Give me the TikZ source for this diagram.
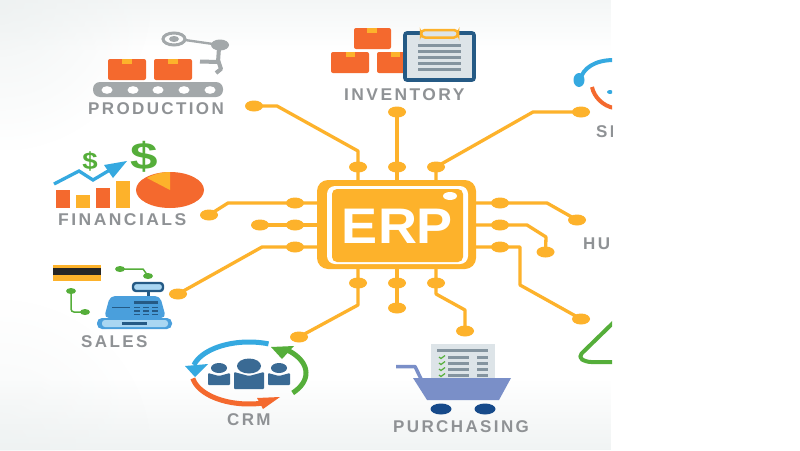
\documentclass[tikz,border=0pt]{standalone}
\usepackage{fontspec}
\setmainfont{Liberation Sans}
\newfontfamily\lblfont[LetterSpace=14]{Liberation Sans}
\usetikzlibrary{shapes.geometric,calc,fadings}
\tikzfading[name=cornerfade,inner color=transparent!0,outer color=transparent!100]
\definecolor{gold}{HTML}{FDB22B}
\definecolor{orng}{HTML}{F4692E}
\definecolor{lblgrey}{HTML}{8F9295}
\definecolor{armgrey}{HTML}{A3A8AA}
\definecolor{navy}{HTML}{255A85}
\definecolor{ppl}{HTML}{3A6A94}
\definecolor{paper}{HTML}{DDE4E8}
\definecolor{rowgrey}{HTML}{84949F}
\definecolor{sky}{HTML}{35A9E0}
\definecolor{grn}{HTML}{55AE3A}
\definecolor{regblue}{HTML}{4A9FDC}
\definecolor{reglight}{HTML}{A9D6F2}
\definecolor{cart}{HTML}{7A8FC8}
\definecolor{wheel}{HTML}{164A8A}
\definecolor{bgedge}{HTML}{EDF1F1}
\tikzset{
 pad/.style={ellipse,fill=gold,draw=none,minimum width=18pt,minimum height=11pt,inner sep=0},
 wire/.style={draw=gold,line width=3.3pt,line join=round},
 lbl/.style={anchor=base west,inner sep=0,text=lblgrey,font=\lblfont\bfseries\fontsize{17}{17}\selectfont},
 box/.style={fill=orng,rounded corners=2pt},
 tape/.style={fill=gold},
 pen/.style={line width=1.5pt},
}
\begin{document}
\begin{tikzpicture}[x=1pt,y=-1pt]
\useasboundingbox (0,0) rectangle (800,450);
\fill[white] (0,0) rectangle (800,450);
% soft background of the picture
\begin{scope}
\clip (0,0) rectangle (612,450);
\fill[bgedge,path fading=south,opacity=.6] (0,0) rectangle (612,50);
\fill[bgedge,path fading=north,opacity=.8] (0,380) rectangle (612,450);
\fill[bgedge,path fading=cornerfade,opacity=.8] (-150,-150) rectangle (150,150);
\fill[bgedge,path fading=cornerfade,opacity=.5] (-150,300) rectangle (150,600);
\end{scope}

% chip
\node[draw=none,fill=gold,rounded corners=11pt,minimum width=159pt,minimum height=89pt,inner sep=0] (chip) at (396.5,224.5) {};
\node[fill=white,rounded corners=8pt,minimum width=141pt,minimum height=78pt,inner sep=0] (ring) at (397.5,225) {};
\node[fill=gold,rounded corners=5pt,minimum width=131pt,minimum height=73pt,inner sep=0] (core) at (397.5,225.5) {};
\node[ellipse,fill=white,minimum width=14pt,minimum height=8pt,inner sep=0] (glint) at (450,196) {};
\node[anchor=base,inner sep=0,text=white,font=\bfseries\fontsize{50}{50}\selectfont,xscale=1.08] (erp) at (397.5,243) {ERP};

% pads
\foreach \n/\x/\y in {t1a/358/167,t2a/397/167,t3a/436/167,t1b/254/106,t2b/397/112,t3b/581/112,
 r1a/500/203,r2a/500/225,r3a/500/247,r1b/577/220,r2b/545.5/252,r3b/581/319,
 b1a/358/283,b2a/397/283,b3a/436/283,b1b/299/337,b2b/397/308,b3b/465/331,
 l1a/295/203,l2a/295/225,l3a/295/247,l1b/209/215,l2b/260/225,l3b/178/294}
 \node[pad] (\n) at (\x,\y) {};

% connectors
\coordinate (ct1) at (358,180); \coordinate (ct2) at (397,180); \coordinate (ct3) at (436,180);
\coordinate (cb1) at (358,269); \coordinate (cb2) at (397,269); \coordinate (cb3) at (436,269);
\coordinate (cl1) at (317,203); \coordinate (cl2) at (317,225); \coordinate (cl3) at (317,247);
\coordinate (cr1) at (476,203); \coordinate (cr2) at (476,225); \coordinate (cr3) at (476,247);
\draw[wire] (ct1) -- (t1a.center) -- (358,151) -- (277,106) -- (t1b.center);
\draw[wire] (ct2) -- (t2a.center) -- (t2b.center);
\draw[wire] (ct3) -- (t3a.center) -- (533,112) -- (t3b.center);
\draw[wire] (cr1) -- (r1a.center) -- (547,203) -- (r1b.center);
\draw[wire] (cr2) -- (r2a.center) -- (527,225) -- (546,237) -- (r2b.center);
\draw[wire] (cr3) -- (r3a.center) -- (520,247) -- (520,285) -- (r3b.center);
\draw[wire] (cb1) -- (b1a.center) -- (358,305) -- (b1b.center);
\draw[wire] (cb2) -- (b2a.center) -- (b2b.center);
\draw[wire] (cb3) -- (b3a.center) -- (436,294) -- (465,310) -- (b3b.center);
\draw[wire] (cl1) -- (l1a.center) -- (228,203) -- (l1b.center);
\draw[wire] (cl2) -- (l2a.center) -- (l2b.center);
\draw[wire] (cl3) -- (l3a.center) -- (262,247) -- (l3b.center);

% PRODUCTION
\fill[box] (108,59) rectangle (146,80);
\fill[box] (154,59) rectangle (192,80);
\fill[tape] (122,59) rectangle (132,64);
\fill[tape] (168,59) rectangle (178,64);
\fill[armgrey,rounded corners=7pt] (93,82) rectangle (223,97);
\foreach \x in {107,133,158,184,210} \fill[white] (\x,90) ellipse[x radius=5.5,y radius=3.8];
\draw[armgrey,line width=3pt] (174,39) ellipse[x radius=11,y radius=6];
\fill[armgrey] (174,39) ellipse[x radius=5,y radius=3];
\draw[armgrey,line width=2.4pt] (185,40) -- (220,45);
\fill[armgrey] (220,45) ellipse[x radius=9,y radius=5.5];
\draw[armgrey,line width=4pt,line join=round] (219,48) -- (218,62) -- (200,61.5);
\draw[armgrey,line width=4pt,line join=round] (218,60) -- (221,69) -- (216,73);
\node[lbl] (production) at (88,114) {PRODUCTION};

% INVENTORY
\fill[box] (354,28) rectangle (391,49);
\fill[box] (331,52) rectangle (369,73);
\fill[box] (377,52) rectangle (410,73);
\fill[tape] (367,28) rectangle (377,33);
\fill[tape] (346,52) rectangle (355,57);
\fill[tape] (391,52) rectangle (400,57);
\draw[navy,fill=paper,line width=3.6pt,rounded corners=2pt] (405,33) rectangle (474,80);
\draw[gold,fill=paper,line width=2.5pt,rounded corners=4pt] (421,30) rectangle (458,37.5);
\foreach \y in {45,51,57,63,69} \fill[rowgrey] (418,\y-1.5) rectangle (461,\y+1.5);
\node[lbl,xscale=1.025,xshift=-1pt] (inventory) at (345,100) {INVENTORY};

% FINANCIALS
\fill[orng] (56,190) rectangle (70,208);
\fill[gold] (76,195) rectangle (90,208);
\fill[orng] (96,188) rectangle (110,208);
\fill[gold] (116,181) rectangle (130,208);
\fill[orng] (170,190) ellipse[x radius=34,y radius=18];
\fill[gold] (170,190) -- (170,172) .. controls (162,172) and (154,174) .. (147,178) -- cycle;
\draw[sky,line width=3.3pt,line join=miter] (54,184) -- (79,171) -- (93,180) -- (114,167.5);
\fill[sky] (127,161) -- (104,165) -- (113,178) -- cycle;
\node[inner sep=0,text=grn,font=\bfseries\fontsize{24}{24}\selectfont,xscale=1.15] (d1) at (90,161) {\$};
\node[inner sep=0,text=grn,font=\bfseries\fontsize{38}{38}\selectfont,xscale=1.3] (d2) at (144,157) {\$};
\node[lbl,xscale=1.03] (financials) at (58,225) {FINANCIALS};

% SALES
\fill[gold] (53,265) rectangle (101,281);
\fill[black!85] (53,268) rectangle (101,275);
\node[ellipse,fill=grn,minimum width=10pt,minimum height=6pt,inner sep=0] (g1) at (120,269) {};
\node[ellipse,fill=grn,minimum width=10pt,minimum height=6pt,inner sep=0] (g2) at (148,276) {};
\node[ellipse,fill=grn,minimum width=10pt,minimum height=6pt,inner sep=0] (g3) at (71,291) {};
\node[ellipse,fill=grn,minimum width=10pt,minimum height=6pt,inner sep=0] (g4) at (85,312) {};
\draw[grn,pen] (g1.center) -- (143,269) -- (g2.center);
\draw[grn,pen,rounded corners=3pt] (g3.center) -- (71,312) -- (g4.center);
\fill[regblue,rounded corners=5pt] (104,318) -- (110,296) -- (160,296) -- (166,318) -- cycle;
\fill[regblue,rounded corners=5pt] (97,318) rectangle (172,329);
\fill[reglight,rounded corners=3pt] (102,320) rectangle (168,327);
\fill[navy] (122,322) rectangle (147,325);
\draw[navy,fill=reglight,line width=2.4pt,rounded corners=3pt] (133,283) rectangle (163,291);
\fill[navy] (146.5,291) rectangle (149.5,296);
\fill[navy] (134,301) rectangle (158,304);
\fill[navy] (112,306.5) rectangle (130,308);
\foreach \y in {306.5,310,313.5} \foreach \x in {134,143,152} \fill[navy] (\x,\y) rectangle (\x+6,\y+1.5);
\node[lbl] (sales) at (81,347) {SALES};

% CRM
\draw[sky,line width=5pt,domain=70:165,samples=30,smooth] plot ({249+57*cos(\x)},{373-31*sin(\x)});
\fill[sky] (185,366) -- (208,364) -- (195,377) -- cycle;
\draw[orng,line width=5pt,domain=190:285,samples=30,smooth] plot ({249+57*cos(\x)},{373-31*sin(\x)});
\fill[orng] (257,398) -- (280,397) -- (263,409) -- cycle;
\draw[grn,line width=5pt,domain=-40:50,samples=30,smooth] plot ({249+57*cos(\x)},{373-31*sin(\x)});
\fill[grn] (271,347) -- (294,346) -- (282,359) -- cycle;
\fill[ppl] (249,366) ellipse[x radius=12,y radius=7.5];
\fill[ppl,rounded corners=1pt] (234,372) -- (249,376) -- (264,372) -- (264,389) -- (234,389) -- cycle;
\fill[ppl] (219,368) ellipse[x radius=8,y radius=5];
\fill[ppl,rounded corners=1pt] (208,373) -- (219,376) -- (230,373) -- (230,385) -- (208,385) -- cycle;
\fill[ppl] (279,368) ellipse[x radius=8,y radius=5];
\fill[ppl,rounded corners=1pt] (268,373) -- (279,376) -- (290,373) -- (290,385) -- (268,385) -- cycle;
\node[lbl] (crm) at (227,425) {CRM};

% PURCHASING
\fill[paper] (431,344) rectangle (495,383);
\fill[rowgrey] (437,349) rectangle (488,352);
\foreach \y in {357,363,369,375} {
  \fill[rowgrey] (448,\y-1.5) rectangle (469,\y+1.5);
  \fill[rowgrey] (477,\y-1.5) rectangle (488,\y+1.5);
  \draw[grn,line width=1.2pt] (439,\y) -- (441,\y+1.5) -- (445,\y-1.5);
}
\fill[cart] (413,378) -- (511,378) -- (499,400) -- (427,400) -- cycle;
\draw[cart,line width=3.5pt,line join=round] (396,366.5) -- (415,366.5) -- (425,387);
\fill[wheel] (441,409) ellipse[x radius=10.5,y radius=5.5];
\fill[wheel] (485,409) ellipse[x radius=10.5,y radius=5.5];
\node[lbl] (purchasing) at (393,432) {PURCHASING};

% cut off at the edge of the image
\begin{scope}
\clip (560,0) rectangle (612,450);
\draw[sky,line width=4pt] (580,80) .. controls (583,68) and (595,60) .. (614,60);
\fill[sky] (579,80) ellipse[x radius=5.5,y radius=7];
\draw[orng,line width=4pt] (592,87) .. controls (594,97) and (603,106) .. (614,108);
\fill[sky] (610,92) ellipse[x radius=3,y radius=2];
\draw[grn,line width=4pt,line join=round,rounded corners=5pt] (616,320) -- (578,357) -- (586,362) -- (616,362);
\node[lbl] (service) at (596,137) {SE};
\node[lbl] (hr) at (583,249) {HUM};
\end{scope}
\end{tikzpicture}
\end{document}
